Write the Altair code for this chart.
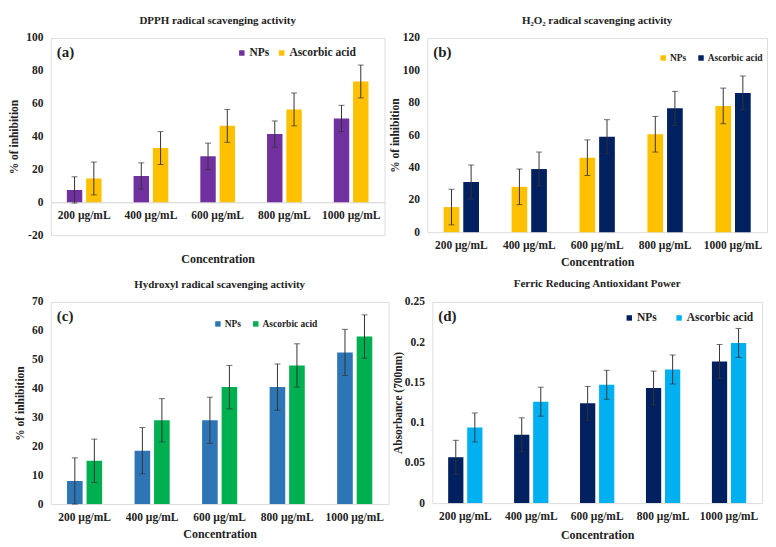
import altair as alt
import pandas as pd

conc = ["200 µg/mL", "400 µg/mL", "600 µg/mL", "800 µg/mL", "1000 µg/mL"]
series = ["NPs", "Ascorbic acid"]

# (a) DPPH
dpph_nps = [7.5, 16, 28, 41.5, 51]
dpph_nps_err = [8, 8, 8, 8, 8]
dpph_aa = [14.5, 33, 46.5, 56.5, 73.5]
dpph_aa_err = [10, 10, 10, 10, 10]

# (b) H2O2
h2o2_nps = [15.5, 28, 46, 60.5, 78]
h2o2_nps_err = [11, 11, 11, 11, 11]
h2o2_aa = [31, 39, 59, 76.5, 86]
h2o2_aa_err = [10.5, 10.5, 10.5, 10.5, 10.5]

# (c) Hydroxyl
oh_nps = [8, 18.5, 29, 40.5, 52.5]
oh_nps_err = [8, 8, 8, 8, 8]
oh_aa = [15, 29, 40.5, 48, 58]
oh_aa_err = [7.5, 7.5, 7.5, 7.5, 7.5]

# (d) FRAP
frap_nps = [0.057, 0.085, 0.124, 0.143, 0.176]
frap_nps_err = [0.021, 0.021, 0.021, 0.021, 0.021]
frap_aa = [0.094, 0.126, 0.147, 0.166, 0.199]
frap_aa_err = [0.018, 0.018, 0.018, 0.018, 0.018]

FONT = "Liberation Serif"


def make_df(nps, nps_err, aa, aa_err):
    rows = []
    for i, c in enumerate(conc):
        rows.append({"conc": c, "series": "NPs", "value": nps[i],
                     "lo": nps[i] - nps_err[i], "hi": nps[i] + nps_err[i]})
        rows.append({"conc": c, "series": "Ascorbic acid", "value": aa[i],
                     "lo": aa[i] - aa_err[i], "hi": aa[i] + aa_err[i]})
    return pd.DataFrame(rows)


def panel(df, colors, title, ytitle, ydomain, yvalues, w, h, letter,
          legx, legy, legfs, legpad, title_offset, xoffset=0, xtitlepad=6,
          ytitlepad=6):
    xaxis = alt.Axis(
        title="Concentration", labelAngle=0, ticks=False,
        domain=xoffset != 0, domainColor="#d0d0d0", offset=xoffset,
        labelFont=FONT, labelFontWeight="bold", labelFontSize=11.5,
        labelColor="#222", labelPadding=7,
        titleFont=FONT, titleFontWeight="bold", titleFontSize=12,
        titleColor="#222", titlePadding=xtitlepad,
    )
    yaxis = alt.Axis(title=ytitle, values=yvalues,
                     labelExpr="toString(datum.value)",
                     grid=False, ticks=False, domain=False,
                     labelFont=FONT, labelFontWeight="bold",
                     labelFontSize=11.5, labelColor="#222",
                     labelPadding=8,
                     titleFont=FONT, titleFontWeight="bold",
                     titleFontSize=11.5, titleColor="#222",
                     titlePadding=ytitlepad)
    base = alt.Chart(df).encode(
        x=alt.X("conc:N", sort=conc,
                scale=alt.Scale(paddingInner=0.48, paddingOuter=0.24),
                axis=xaxis),
        xOffset=alt.XOffset("series:N", sort=series,
                            scale=alt.Scale(paddingInner=0.2)),
    )
    yscale = alt.Scale(domain=ydomain, nice=False, zero=False)
    bars = base.mark_bar().encode(
        y=alt.Y("value:Q", scale=yscale, axis=yaxis),
        color=alt.Color("series:N", sort=series,
                        scale=alt.Scale(domain=series, range=colors),
                        legend=alt.Legend(
                            title=None, orient="none", legendX=legx,
                            legendY=legy, direction="horizontal",
                            symbolType="square", symbolSize=30,
                            symbolStrokeWidth=0, labelFont=FONT,
                            labelFontWeight="bold", labelFontSize=legfs,
                            labelColor="#222", columnPadding=legpad,
                            labelOffset=2)),
    )
    rules = base.mark_rule(color="#333", strokeWidth=1).encode(
        y=alt.Y("lo:Q", scale=yscale, axis=yaxis), y2="hi:Q")
    cap_lo = base.mark_tick(color="#333", thickness=1, size=6).encode(
        y=alt.Y("lo:Q", scale=yscale, axis=yaxis))
    cap_hi = base.mark_tick(color="#333", thickness=1, size=6).encode(
        y=alt.Y("hi:Q", scale=yscale, axis=yaxis))
    lab = alt.Chart(pd.DataFrame({"t": [letter]})).mark_text(
        font=FONT, fontWeight="bold", fontSize=15, align="left",
        baseline="middle", color="#222").encode(
        text="t:N", x=alt.value(6), y=alt.value(14))
    return alt.layer(bars, rules, cap_lo, cap_hi, lab).properties(
        width=w, height=h,
        title=alt.TitleParams(title, font=FONT, fontWeight="bold",
                              fontSize=11, color="#222",
                              offset=title_offset),
    )


pa = panel(make_df(dpph_nps, dpph_nps_err, dpph_aa, dpph_aa_err),
           ["#7030A0", "#FFC000"], "DPPH radical scavenging activity",
           "% of inhibition", [-20, 100], [-20, 0, 20, 40, 60, 80, 100],
           335, 198, "(a)", 186, 9, 11.5, 6, 6, xoffset=-33, xtitlepad=33)
pb = panel(make_df(h2o2_nps, h2o2_nps_err, h2o2_aa, h2o2_aa_err),
           ["#FFC000", "#002060"], "H₂O₂ radical scavenging activity",
           "% of inhibition", [0, 120], [0, 20, 40, 60, 80, 100, 120],
           341, 195, "(b)", 232, 15, 9.5, 10, 6, ytitlepad=2)
pc = panel(make_df(oh_nps, oh_nps_err, oh_aa, oh_aa_err),
           ["#2E75B6", "#00B050"], "Hydroxyl  radical scavenging activity",
           "% of inhibition", [0, 70], [0, 10, 20, 30, 40, 50, 60, 70],
           339, 203, "(c)", 163, 17, 9.5, 10, 6)
pd_ = panel(make_df(frap_nps, frap_nps_err, frap_aa, frap_aa_err),
            ["#002060", "#00B0F0"], "Ferric Reducing Antioxidant Power",
            "Absorbance (700nm)", [0, 0.25],
            [0, 0.05, 0.1, 0.15, 0.2, 0.25],
            331, 202, "(d)", 192, 10, 11.5, 16, 7, xtitlepad=8,
            ytitlepad=1)

row1 = alt.hconcat(pa, pb, spacing=3).resolve_scale(
    x="independent", y="independent", color="independent",
    xOffset="independent")
row2 = alt.hconcat(pc, pd_, spacing=2).resolve_scale(
    x="independent", y="independent", color="independent",
    xOffset="independent")

chart = alt.vconcat(row1, row2, spacing=9).resolve_scale(
    x="independent", y="independent", color="independent",
    xOffset="independent").properties(
    padding={"left": 0, "top": 5, "right": 0, "bottom": 0}
).configure_view(stroke="#555", strokeWidth=1).configure_legend(
    labelFont=FONT, labelFontWeight="bold").configure(
    background="white")

chart.save("out.html", embed_options={"renderer": "svg", "actions": False})
